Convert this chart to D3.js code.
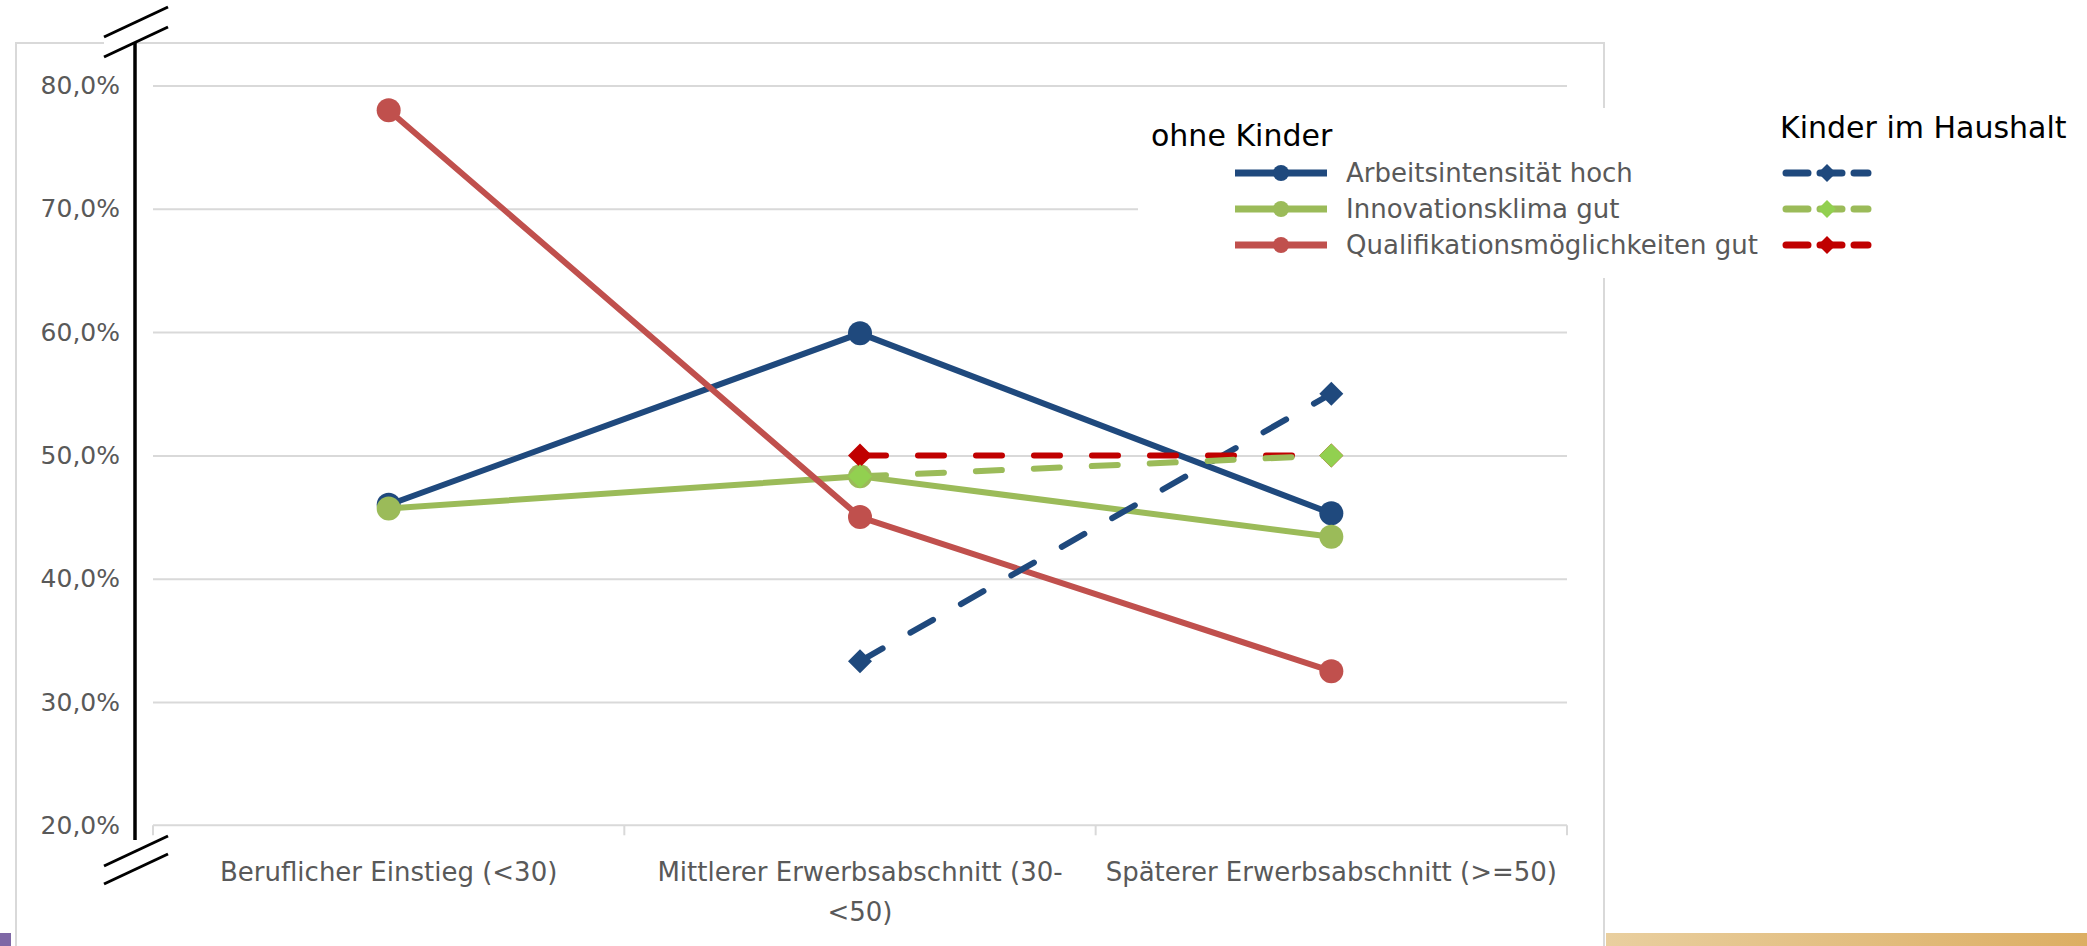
<!DOCTYPE html>
<html><head><meta charset="utf-8">
<script src="https://cdn.jsdelivr.net/npm/d3@7"></script>
<style>body{margin:0;background:#fff}svg{display:block}text{font-family:"DejaVu Sans",sans-serif}</style>
</head><body>
<svg id="c" width="2087" height="946"></svg>
<script>
// ---- data ----
const categories = ["Beruflicher Einstieg (<30)", "Mittlerer Erwerbsabschnitt (30-<50)", "Späterer Erwerbsabschnitt (>=50)"];
const categoryLabelLines = [["Beruflicher Einstieg (<30)"], ["Mittlerer Erwerbsabschnitt (30-", "<50)"], ["Späterer Erwerbsabschnitt (>=50)"]];
const seriesNames = ["Arbeitsintensität hoch", "Innovationsklima gut", "Qualifikationsmöglichkeiten gut"];
const ohneKinder_Arbeit = [46.0, 59.9, 45.3];
const ohneKinder_Innov = [45.7, 48.3, 43.4];
const ohneKinder_Qual = [78.0, 45.0, 32.5];
const kinder_Arbeit = [null, 33.3, 55.0];
const kinder_Innov = [null, 48.3, 50.0];
const kinder_Qual = [null, 50.0, 50.0];
const yTicks = [20, 30, 40, 50, 60, 70, 80];
const legendTitles = ["ohne Kinder", "Kinder im Haushalt"];

// ---- layout ----
const svg = d3.select("#c");
const L = 153, R = 1567, T = 85.5, B = 825.3;
const x = d3.scaleBand().domain(categories).range([L, R]);
const cx = c => x(c) + x.bandwidth() / 2;
const y = d3.scaleLinear().domain([20, 80]).range([B, T]);
const grey = "#595959";

// bottom slide strip
const defs = svg.append("defs");
const g1 = defs.append("linearGradient").attr("id", "gold").attr("x1", 0).attr("x2", 1);
g1.append("stop").attr("offset", 0).attr("stop-color", "#e9cf9f");
g1.append("stop").attr("offset", 1).attr("stop-color", "#dcae63");
svg.append("rect").attr("x", 0).attr("y", 933).attr("width", 11).attr("height", 13).attr("fill", "#7f68a6");
svg.append("rect").attr("x", 1606).attr("y", 933).attr("width", 481).attr("height", 13).attr("fill", "url(#gold)");

// chart frame
svg.append("rect").attr("x", 16).attr("y", 43).attr("width", 1588).attr("height", 940)
  .attr("fill", "#fff").attr("stroke", "#d9d9d9").attr("stroke-width", 2);

// gridlines
svg.append("g").attr("transform", `translate(${L},0)`)
  .call(d3.axisLeft(y).tickValues(yTicks.filter(t => t > 20)).tickSize(-(R - L)).tickFormat(""))
  .call(g => g.select(".domain").remove())
  .call(g => g.selectAll("line").attr("stroke", "#d9d9d9").attr("stroke-width", 2));

// y labels
svg.append("g").attr("transform", `translate(${L},0)`)
  .call(d3.axisLeft(y).tickValues(yTicks).tickSize(0).tickPadding(33)
    .tickFormat(d => d3.format(".1f")(d).replace(".", ",") + "%"))
  .call(g => g.select(".domain").remove())
  .call(g => g.selectAll("text").attr("fill", grey).attr("font-size", 25)
    .attr("font-family", "DejaVu Sans"));

// x axis line + boundary ticks
svg.append("line").attr("x1", L).attr("x2", R).attr("y1", B).attr("y2", B)
  .attr("stroke", "#d9d9d9").attr("stroke-width", 2);
const bounds = categories.map(c => x(c)).concat([R]);
svg.append("g").selectAll("line").data(bounds).join("line")
  .attr("x1", d => d).attr("x2", d => d).attr("y1", B).attr("y2", B + 10)
  .attr("stroke", "#d9d9d9").attr("stroke-width", 2);

// x labels
const xa = svg.append("g").attr("transform", `translate(0,${B})`)
  .call(d3.axisBottom(x).tickSize(0).tickPadding(0).tickFormat(""));
xa.select(".domain").remove();
xa.selectAll(".tick").each(function (d, i) {
  const t = d3.select(this).append("text").attr("fill", grey).attr("font-size", 26)
    .attr("text-anchor", "middle").attr("font-family", "DejaVu Sans");
  categoryLabelLines[i].forEach((ln, j) => {
    t.append("tspan").attr("x", 0).attr("y", 56 + j * 40).text(ln);
  });
});

// y axis (black) with break marks
svg.append("line").attr("x1", 135).attr("x2", 135).attr("y1", 43).attr("y2", 840)
  .attr("stroke", "#000").attr("stroke-width", 3.5);
function brk(x1, y1, x2, y2, off) {
  svg.append("polygon").attr("points", `${x1},${y1} ${x2},${y2} ${x2},${y2 + off} ${x1},${y1 + off}`)
    .attr("fill", "#fff");
  [0, off].forEach(o => svg.append("line").attr("x1", x1).attr("y1", y1 + o).attr("x2", x2).attr("y2", y2 + o)
    .attr("stroke", "#000").attr("stroke-width", 3));
}
brk(104, 37, 168, 7, 20);
brk(104, 866, 168, 836, 18);

// series
const line = d3.line().defined(d => d.v != null).x(d => cx(d.c)).y(d => y(d.v));
const toPts = arr => arr.map((v, i) => ({ c: categories[i], v }));
const solid = [
  { data: ohneKinder_Arbeit, color: "#1f497d" },
  { data: ohneKinder_Innov, color: "#9bbb59" },
  { data: ohneKinder_Qual, color: "#c0504d" }
];
const dashed = [
  { data: kinder_Arbeit, color: "#1f497d", mk: "#1f497d" },
  { data: kinder_Qual, color: "#c00000", mk: "#c00000" },
  { data: kinder_Innov, color: "#9bbb59", mk: "#92d050" }
];
const plotG = svg.append("g");
solid.forEach(s => {
  const pts = toPts(s.data);
  plotG.append("path").attr("d", line(pts)).attr("fill", "none").attr("stroke", s.color)
    .attr("stroke-width", 6).attr("stroke-linejoin", "round");
  plotG.selectAll(null).data(pts.filter(p => p.v != null)).join("circle")
    .attr("cx", p => cx(p.c)).attr("cy", p => y(p.v)).attr("r", 12).attr("fill", s.color);
});
const diamond = d3.symbol().type(d3.symbolDiamond2 || d3.symbolDiamond);
dashed.forEach(s => {
  const pts = toPts(s.data);
  plotG.append("path").attr("d", line(pts)).attr("fill", "none").attr("stroke", s.color)
    .attr("stroke-width", 6).attr("stroke-dasharray", "26 32").attr("stroke-linecap", "round");
  plotG.selectAll(null).data(pts.filter(p => p.v != null)).join("path")
    .attr("transform", p => `translate(${cx(p.c)},${y(p.v)})`)
    .attr("d", "M0,-12L12,0L0,12L-12,0Z").attr("fill", s.mk);
});

// legend
const lg = svg.append("g");
lg.append("rect").attr("x", 1138).attr("y", 108).attr("width", 935).attr("height", 170).attr("fill", "#fff");
lg.append("text").attr("x", 1151).attr("y", 146).attr("font-size", 30).attr("fill", "#000").text(legendTitles[0]);
lg.append("text").attr("x", 1780).attr("y", 138).attr("font-size", 30).attr("fill", "#000").text(legendTitles[1]);
const rowY = [173, 209, 245];
seriesNames.forEach((n, i) => {
  const yy = rowY[i];
  lg.append("line").attr("x1", 1235).attr("x2", 1327).attr("y1", yy).attr("y2", yy)
    .attr("stroke", solid[i].color).attr("stroke-width", 7);
  lg.append("circle").attr("cx", 1281).attr("cy", yy).attr("r", 8).attr("fill", solid[i].color);
  lg.append("text").attr("x", 1346).attr("y", yy + 9).attr("font-size", 26).attr("fill", grey).text(n);
  const ds = [kinder_Arbeit, kinder_Innov, kinder_Qual][i];
  const dc = [dashed[0], dashed[2], dashed[1]][i];
  lg.append("line").attr("x1", 1786).attr("x2", 1868).attr("y1", yy).attr("y2", yy)
    .attr("stroke", dc.color).attr("stroke-width", 7).attr("stroke-dasharray", "22 12").attr("stroke-linecap", "round");
  lg.append("path").attr("transform", `translate(1827,${yy})`).attr("d", "M0,-9L9,0L0,9L-9,0Z").attr("fill", dc.mk);
});
</script>
</body></html>
